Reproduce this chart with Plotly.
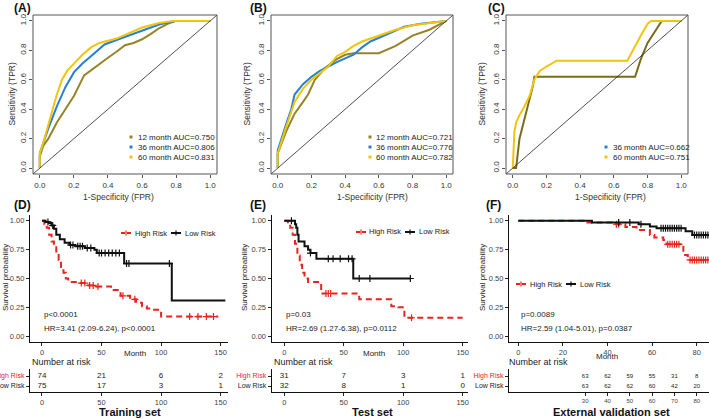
import numpy as np
import plotly.graph_objects as go

W, H = 709, 419
FONT = "Liberation Sans, Arial, sans-serif"

# ---------------- ROC data ----------------
A12_fpr = [0, 0, 0.02, 0.05, 0.1, 0.15, 0.2, 0.26, 0.3, 0.35, 0.4, 0.45, 0.5, 0.55, 0.6, 0.65, 0.7, 0.75, 0.8, 1.0]
A12_tpr = [0, 0.08, 0.15, 0.2, 0.31, 0.4, 0.49, 0.63, 0.665, 0.71, 0.75, 0.79, 0.835, 0.85, 0.875, 0.91, 0.95, 0.98, 1.0, 1.0]
A36_fpr = [0, 0, 0.02, 0.05, 0.1, 0.15, 0.2, 0.25, 0.3, 0.38, 0.45, 0.5, 0.6, 0.7, 0.8, 1.0]
A36_tpr = [0, 0.1, 0.17, 0.27, 0.42, 0.55, 0.65, 0.71, 0.76, 0.84, 0.87, 0.89, 0.935, 0.975, 1.0, 1.0]
A60_fpr = [0, 0, 0.02, 0.05, 0.1, 0.13, 0.16, 0.2, 0.25, 0.3, 0.35, 0.45, 0.5, 0.6, 0.7, 0.78, 1.0]
A60_tpr = [0, 0.1, 0.17, 0.3, 0.5, 0.6, 0.66, 0.71, 0.77, 0.82, 0.85, 0.88, 0.905, 0.955, 0.985, 1.0, 1.0]

B12_fpr = [0, 0, 0.05, 0.1, 0.15, 0.18, 0.22, 0.28, 0.35, 0.4, 0.45, 0.6, 0.7, 0.8, 0.9, 1.0]
B12_tpr = [0, 0.1, 0.25, 0.37, 0.45, 0.5, 0.6, 0.68, 0.74, 0.77, 0.78, 0.78, 0.83, 0.9, 0.94, 1.0]
B36_fpr = [0, 0, 0.05, 0.08, 0.1, 0.15, 0.2, 0.25, 0.3, 0.35, 0.45, 0.5, 0.55, 0.65, 0.75, 0.85, 1.0]
B36_tpr = [0, 0.12, 0.3, 0.4, 0.5, 0.57, 0.62, 0.66, 0.69, 0.72, 0.77, 0.82, 0.86, 0.91, 0.96, 0.98, 1.0]
B60_fpr = [0, 0, 0.05, 0.1, 0.15, 0.2, 0.3, 0.35, 0.4, 0.45, 0.5, 0.6, 0.7, 0.8, 1.0]
B60_tpr = [0, 0.1, 0.28, 0.45, 0.54, 0.6, 0.69, 0.76, 0.79, 0.83, 0.86, 0.9, 0.94, 0.97, 1.0]

C36_fpr = [0, 0.02, 0.04, 0.06, 0.09, 0.12, 0.128, 0.726, 0.76, 0.8, 0.884, 1.0]
C36_tpr = [0, 0, 0.2, 0.29, 0.42, 0.56, 0.62, 0.62, 0.74, 0.85, 1.0, 1.0]
C60_fpr = [0, 0.005, 0.01, 0.02, 0.04, 0.07, 0.1, 0.128, 0.16, 0.2, 0.26, 0.68, 0.72, 0.76, 0.8, 0.82, 1.0]
C60_tpr = [0, 0.15, 0.25, 0.31, 0.36, 0.42, 0.49, 0.6, 0.66, 0.69, 0.73, 0.73, 0.82, 0.9, 0.98, 1.0, 1.0]

roc_ticks = [0.0, 0.2, 0.4, 0.6, 0.8, 1.0]
roc_ticktext = ["0.0", "0.2", "0.4", "0.6", "0.8", "1.0"]
legA = ["12 month AUC=0.750", "36 month AUC=0.806", "60 month AUC=0.831"]
legB = ["12 month AUC=0.721", "36 month AUC=0.776", "60 month AUC=0.782"]
legC = ["36 month AUC=0.662", "60 month AUC=0.751"]

# ---------------- KM data ----------------
D_low_t = [0, 3, 6, 8, 10, 12, 15, 19, 23, 28, 36, 44, 46, 69, 109, 154]
D_low_s = [1, 0.99, 0.98, 0.96, 0.93, 0.88, 0.84, 0.81, 0.79, 0.78, 0.765, 0.75, 0.72, 0.63, 0.31, 0.31]
D_low_c = [5, 9, 24, 26, 30, 32, 34, 38, 41, 48, 50, 53, 56, 59, 62, 65, 71, 73, 107]
D_high_t = [0, 2, 4, 6, 8, 10, 12, 14, 16, 18, 20, 22, 24, 31, 38, 46, 58, 66, 74, 79, 84, 88, 93, 100, 148]
D_high_s = [1, 0.97, 0.94, 0.88, 0.82, 0.77, 0.72, 0.66, 0.6, 0.55, 0.5, 0.48, 0.47, 0.46, 0.44, 0.43, 0.40, 0.35, 0.32, 0.29, 0.26, 0.24, 0.23, 0.17, 0.17]
D_high_c = [33, 36, 40, 43, 47, 68, 78, 124, 131, 138, 144]

E_low_t = [0, 9, 10, 11, 12, 17, 20, 22, 27, 58, 106]
E_low_s = [1, 0.97, 0.94, 0.88, 0.82, 0.78, 0.75, 0.72, 0.67, 0.5, 0.5]
E_low_c = [6, 22, 37, 41, 47, 54, 57, 63, 72, 106]
E_high_t = [0, 3, 5, 7, 9, 11, 13, 15, 17, 20, 31, 63, 90, 96, 101, 150]
E_high_s = [1, 0.97, 0.94, 0.88, 0.8, 0.7, 0.62, 0.55, 0.5, 0.47, 0.37, 0.32, 0.26, 0.25, 0.16, 0.16]
E_high_c = [35, 37, 39, 107]

F_low_t = [0, 33, 54, 59, 62, 75, 78, 86]
F_low_s = [1, 0.985, 0.97, 0.95, 0.935, 0.91, 0.876, 0.876]
F_low_c = [45, 50, 55, 64, 65, 66, 67, 68, 69, 70, 71, 72, 73, 79, 80, 81, 82, 83, 84, 85]
F_high_t = [0, 31, 42, 48, 53, 59, 61, 65, 66.5, 72.8, 74, 76, 86]
F_high_s = [1, 0.985, 0.97, 0.945, 0.92, 0.876, 0.855, 0.833, 0.796, 0.776, 0.704, 0.661, 0.661]
F_high_c = [44, 45, 67, 68, 69, 70, 71, 72, 77, 78, 79, 80, 81, 82, 83, 84, 85]

# ---------------- risk tables ----------------
D_risk_times = [0, 50, 100, 150]
D_risk_high = [74, 21, 6, 2]
D_risk_low = [75, 17, 3, 1]
E_risk_times = [0, 50, 100, 150]
E_risk_high = [31, 7, 3, 1]
E_risk_low = [32, 8, 1, 0]
F_risk_times = [30, 40, 50, 60, 70, 80]
F_risk_high = [63, 62, 59, 55, 31, 8]
F_risk_low = [63, 62, 62, 60, 42, 20]

OLIVE = "#968428"
OLIVE_D = "#7A6C1E"
BLUE = "#2680D6"
GOLD = "#F2C40C"
RED = "#E8241F"
BLACK = "#111111"


def xdom(a, b):
    return [a / W, b / W]


def ydom(top, bot):
    return [1 - bot / H, 1 - top / H]


def px(x):
    return x / W


def py(y):
    return 1 - y / H


fig = go.Figure()
annotations = []
shapes = []


def ann(text, x, y, size=8, color="#333", xanchor="center", bold=False, angle=0, family=FONT):
    if bold:
        text = "<b>" + text + "</b>"
    annotations.append(dict(text=text, x=px(x), y=py(y), xref="paper", yref="paper",
                            xanchor=xanchor, yanchor="middle", showarrow=False, textangle=angle,
                            font=dict(size=size, color=color, family=family)))


# ---- ROC traces ----
roc_sets = [
    ("", [(A12_fpr, A12_tpr, OLIVE), (A36_fpr, A36_tpr, BLUE), (A60_fpr, A60_tpr, GOLD)]),
    ("2", [(B12_fpr, B12_tpr, OLIVE), (B36_fpr, B36_tpr, BLUE), (B60_fpr, B60_tpr, GOLD)]),
    ("3", [(C36_fpr, C36_tpr, OLIVE_D), (C60_fpr, C60_tpr, GOLD)]),
]
for sfx, curves in roc_sets:
    for fx, ty, col in curves:
        fig.add_trace(go.Scatter(x=fx, y=ty, mode="lines", line=dict(color=col, width=2),
                                 xaxis="x" + sfx, yaxis="y" + sfx, hoverinfo="skip"))
    shapes.append(dict(type="line", xref="x" + sfx + " domain", yref="y" + sfx + " domain",
                       x0=0, y0=0, x1=1, y1=1, line=dict(color="#222", width=0.8)))
    shapes.append(dict(type="rect", xref="x" + sfx + " domain", yref="y" + sfx + " domain",
                       x0=0, y0=0, x1=1, y1=1, line=dict(color="#555", width=1)))


# ---- KM traces ----
def km(sfx, t, s, c, color, dash):
    fig.add_trace(go.Scatter(x=t, y=s, mode="lines", line=dict(color=color, width=2, dash=dash, shape="hv"),
                             xaxis="x" + sfx, yaxis="y" + sfx, hoverinfo="skip"))
    ta = np.array(t, dtype=float)
    sa = np.array(s, dtype=float)
    idx = np.searchsorted(ta, np.array(c, dtype=float), side="right") - 1
    fig.add_trace(go.Scatter(x=c, y=sa[idx], mode="markers",
                             marker=dict(symbol="cross-thin", size=5, line=dict(color=color, width=1.2)),
                             xaxis="x" + sfx, yaxis="y" + sfx, hoverinfo="skip"))


km("4", D_high_t, D_high_s, D_high_c, RED, "6px,4px")
km("4", D_low_t, D_low_s, D_low_c, BLACK, "solid")
km("5", E_high_t, E_high_s, E_high_c, RED, "6px,4px")
km("5", E_low_t, E_low_s, E_low_c, BLACK, "solid")
km("6", F_high_t, F_high_s, F_high_c, RED, "6px,4px")
km("6", F_low_t, F_low_s, F_low_c, BLACK, "solid")

# ---- risk table numbers ----
for sfx, times, hi, lo, fs in [("7", D_risk_times, D_risk_high, D_risk_low, 8),
                               ("8", E_risk_times, E_risk_high, E_risk_low, 8),
                               ("9", F_risk_times, F_risk_high, F_risk_low, 6)]:
    fig.add_trace(go.Scatter(x=times, y=[2] * len(times), mode="text", text=[str(v) for v in hi],
                             textfont=dict(size=fs, color="#222", family=FONT),
                             xaxis="x" + sfx, yaxis="y" + sfx, hoverinfo="skip"))
    fig.add_trace(go.Scatter(x=times, y=[1] * len(times), mode="text", text=[str(v) for v in lo],
                             textfont=dict(size=fs, color="#222", family=FONT),
                             xaxis="x" + sfx, yaxis="y" + sfx, hoverinfo="skip"))

layout = dict(width=W, height=H, margin=dict(l=0, r=0, t=0, b=0), paper_bgcolor="white",
              plot_bgcolor="white", showlegend=False, font=dict(family=FONT, size=8, color="#333"))

# ROC axes
for sfx, (a, b) in [("", (33, 217)), ("2", (271, 453)), ("3", (506, 688))]:
    layout["xaxis" + sfx] = dict(domain=xdom(a, b), range=[-0.04, 1.04], anchor="y" + sfx,
                                 tickvals=roc_ticks, ticktext=roc_ticktext, ticks="outside", ticklen=3,
                                 tickcolor="#555", showgrid=False, zeroline=False, showline=False,
                                 tickfont=dict(size=8, color="#333"), automargin=False)
    layout["yaxis" + sfx] = dict(domain=ydom(15, 174), range=[-0.04, 1.04], anchor="x" + sfx,
                                 tickvals=roc_ticks, ticktext=roc_ticktext, ticks="outside", ticklen=3,
                                 tickcolor="#555", showgrid=False, zeroline=False, showline=False,
                                 tickangle=-90, tickfont=dict(size=8, color="#333"), automargin=False)

# KM axes
km_axes = [("4", (30, 228), [-10.07, 156.2], [0, 50, 100, 150]),
           ("5", (271.7, 468), [-10.6, 154.5], [0, 50, 100, 150]),
           ("6", (509, 709), [-4.17, 85.5], [0, 20, 40, 60, 80])]
for sfx, (a, b), rng, tv in km_axes:
    layout["xaxis" + sfx] = dict(domain=xdom(a, b), range=rng, anchor="y" + sfx, tickvals=tv,
                                 ticks="outside", ticklen=3, tickcolor="#222", showline=True,
                                 linecolor="#111", linewidth=1.3, showgrid=False, zeroline=False,
                                 tickfont=dict(size=7.5, color="#444"), automargin=False)
    layout["yaxis" + sfx] = dict(domain=ydom(215, 342), range=[-0.05, 1.05], anchor="x" + sfx,
                                 tickvals=[0, 0.25, 0.5, 0.75, 1.0],
                                 ticktext=["0.00", "0.25", "0.50", "0.75", "1.00"],
                                 ticks="outside", ticklen=3, tickcolor="#222", showline=True,
                                 linecolor="#111", linewidth=1.3, showgrid=False, zeroline=False,
                                 tickfont=dict(size=7.5, color="#444"), automargin=False)

# Table axes
tab_axes = [("7", (30, 228), [-10.07, 156.2], [0, 50, 100, 150], 7.5),
            ("8", (271.7, 468), [-10.6, 154.5], [0, 50, 100, 150], 7.5),
            ("9", (509, 709), [-4.17, 85.5], [30, 40, 50, 60, 70, 80], 6)]
for sfx, (a, b), rng, tv, fs in tab_axes:
    layout["xaxis" + sfx] = dict(domain=xdom(a, b), range=rng, anchor="y" + sfx, tickvals=tv,
                                 ticks="outside", ticklen=3, tickcolor="#222", showline=True,
                                 linecolor="#111", linewidth=1.3, showgrid=False, zeroline=False,
                                 tickfont=dict(size=fs, color="#444"), automargin=False)
    layout["yaxis" + sfx] = dict(domain=ydom(369, 392), range=[0.4, 2.7], anchor="x" + sfx,
                                 tickvals=[2, 1],
                                 ticktext=['<span style="color:%s">High Risk</span>' % RED,
                                           '<span style="color:#222">Low Risk</span>'],
                                 ticks="outside", ticklen=3, tickcolor="#222", showline=True,
                                 linecolor="#111", linewidth=1.3, showgrid=False, zeroline=False,
                                 tickfont=dict(size=7), automargin=False)

# ---- texts ----
for lab, x, y in [("(A)", 22, 8), ("(B)", 258, 8), ("(C)", 496, 8),
                  ("(D)", 22, 205), ("(E)", 258, 205), ("(F)", 493, 205)]:
    ann(lab, x, y, size=12, color="#111", bold=True)

for x_t, x_y, cx in [(118, 12, 94.5), (373, 247, 94.5), (610, 482, 94.5)]:
    ann("1-Specificity (FPR)", x_t, 197, size=8.5)
    ann("Sensitivity (TPR)", x_y, cx, size=8.5, angle=-90)


# ROC legends
def roc_legend(mx, tx, rows, labels, cols):
    for r, lab, col in zip(rows, labels, cols):
        shapes.append(dict(type="rect", xref="paper", yref="paper", x0=px(mx - 1.5), x1=px(mx + 1.5),
                           y0=py(r + 1.5), y1=py(r - 1.5), fillcolor=col, line=dict(width=0)))
        ann(lab, tx, r, size=8, color="#222", xanchor="left")


roc_legend(131, 135.5, [137, 147, 157], legA, [OLIVE, BLUE, GOLD])
roc_legend(370, 374.5, [137, 147, 157], legB, [OLIVE, BLUE, GOLD])
roc_legend(606, 610.5, [147, 157], legC, [BLUE, GOLD])


# KM legends
def km_legend(y, rx, tx1, bx, tx2):
    shapes.append(dict(type="line", xref="paper", yref="paper", x0=px(rx - 5), x1=px(rx + 5),
                       y0=py(y), y1=py(y), line=dict(color=RED, width=2, dash="4px,2px")))
    shapes.append(dict(type="line", xref="paper", yref="paper", x0=px(rx), x1=px(rx),
                       y0=py(y - 2.5), y1=py(y + 2.5), line=dict(color=RED, width=1.2)))
    ann("High Risk", tx1, y, size=7.5, color="#222", xanchor="left")
    shapes.append(dict(type="line", xref="paper", yref="paper", x0=px(bx - 5), x1=px(bx + 5),
                       y0=py(y), y1=py(y), line=dict(color=BLACK, width=2)))
    shapes.append(dict(type="line", xref="paper", yref="paper", x0=px(bx), x1=px(bx),
                       y0=py(y - 2.5), y1=py(y + 2.5), line=dict(color=BLACK, width=1.2)))
    ann("Low Risk", tx2, y, size=7.5, color="#222", xanchor="left")


km_legend(233, 126, 133, 176, 183)
km_legend(232, 361, 367, 410, 417)
km_legend(284, 521, 528, 571, 578)

for x_p, x_y, x_m, y_m, ptxt, hrtxt in [
        (42, 5, 135, 353, "p<0.0001", "HR=3.41 (2.09-6.24), p<0.0001"),
        (284, 244, 374, 353, "p=0.03", "HR=2.69 (1.27-6.38), p=0.0112"),
        (519, 482, 607, 356, "p=0.0089", "HR=2.59 (1.04-5.01), p=0.0387")]:
    ann(ptxt, x_p, 314, size=8, color="#222", xanchor="left")
    ann(hrtxt, x_p, 328, size=8, color="#222", xanchor="left")
    ann("Survival probability", x_y, 278, size=8, color="#222", angle=-90)
    ann("Month", x_m, y_m, size=8, color="#222")

for x_n, x_title, title in [(30, 130, "Training set"), (272, 373, "Test set"), (507, 611, "External validation set")]:
    ann("Number at risk", x_n, 362, size=9, color="#222", xanchor="left")
    ann(title, x_title, 412, size=11, color="#111", bold=True)

layout["annotations"] = annotations
layout["shapes"] = shapes
fig.update_layout(**layout)
fig.write_html("out.html", config={"displayModeBar": False},
               post_script="document.body.style.margin='0';document.body.style.padding='0';")
